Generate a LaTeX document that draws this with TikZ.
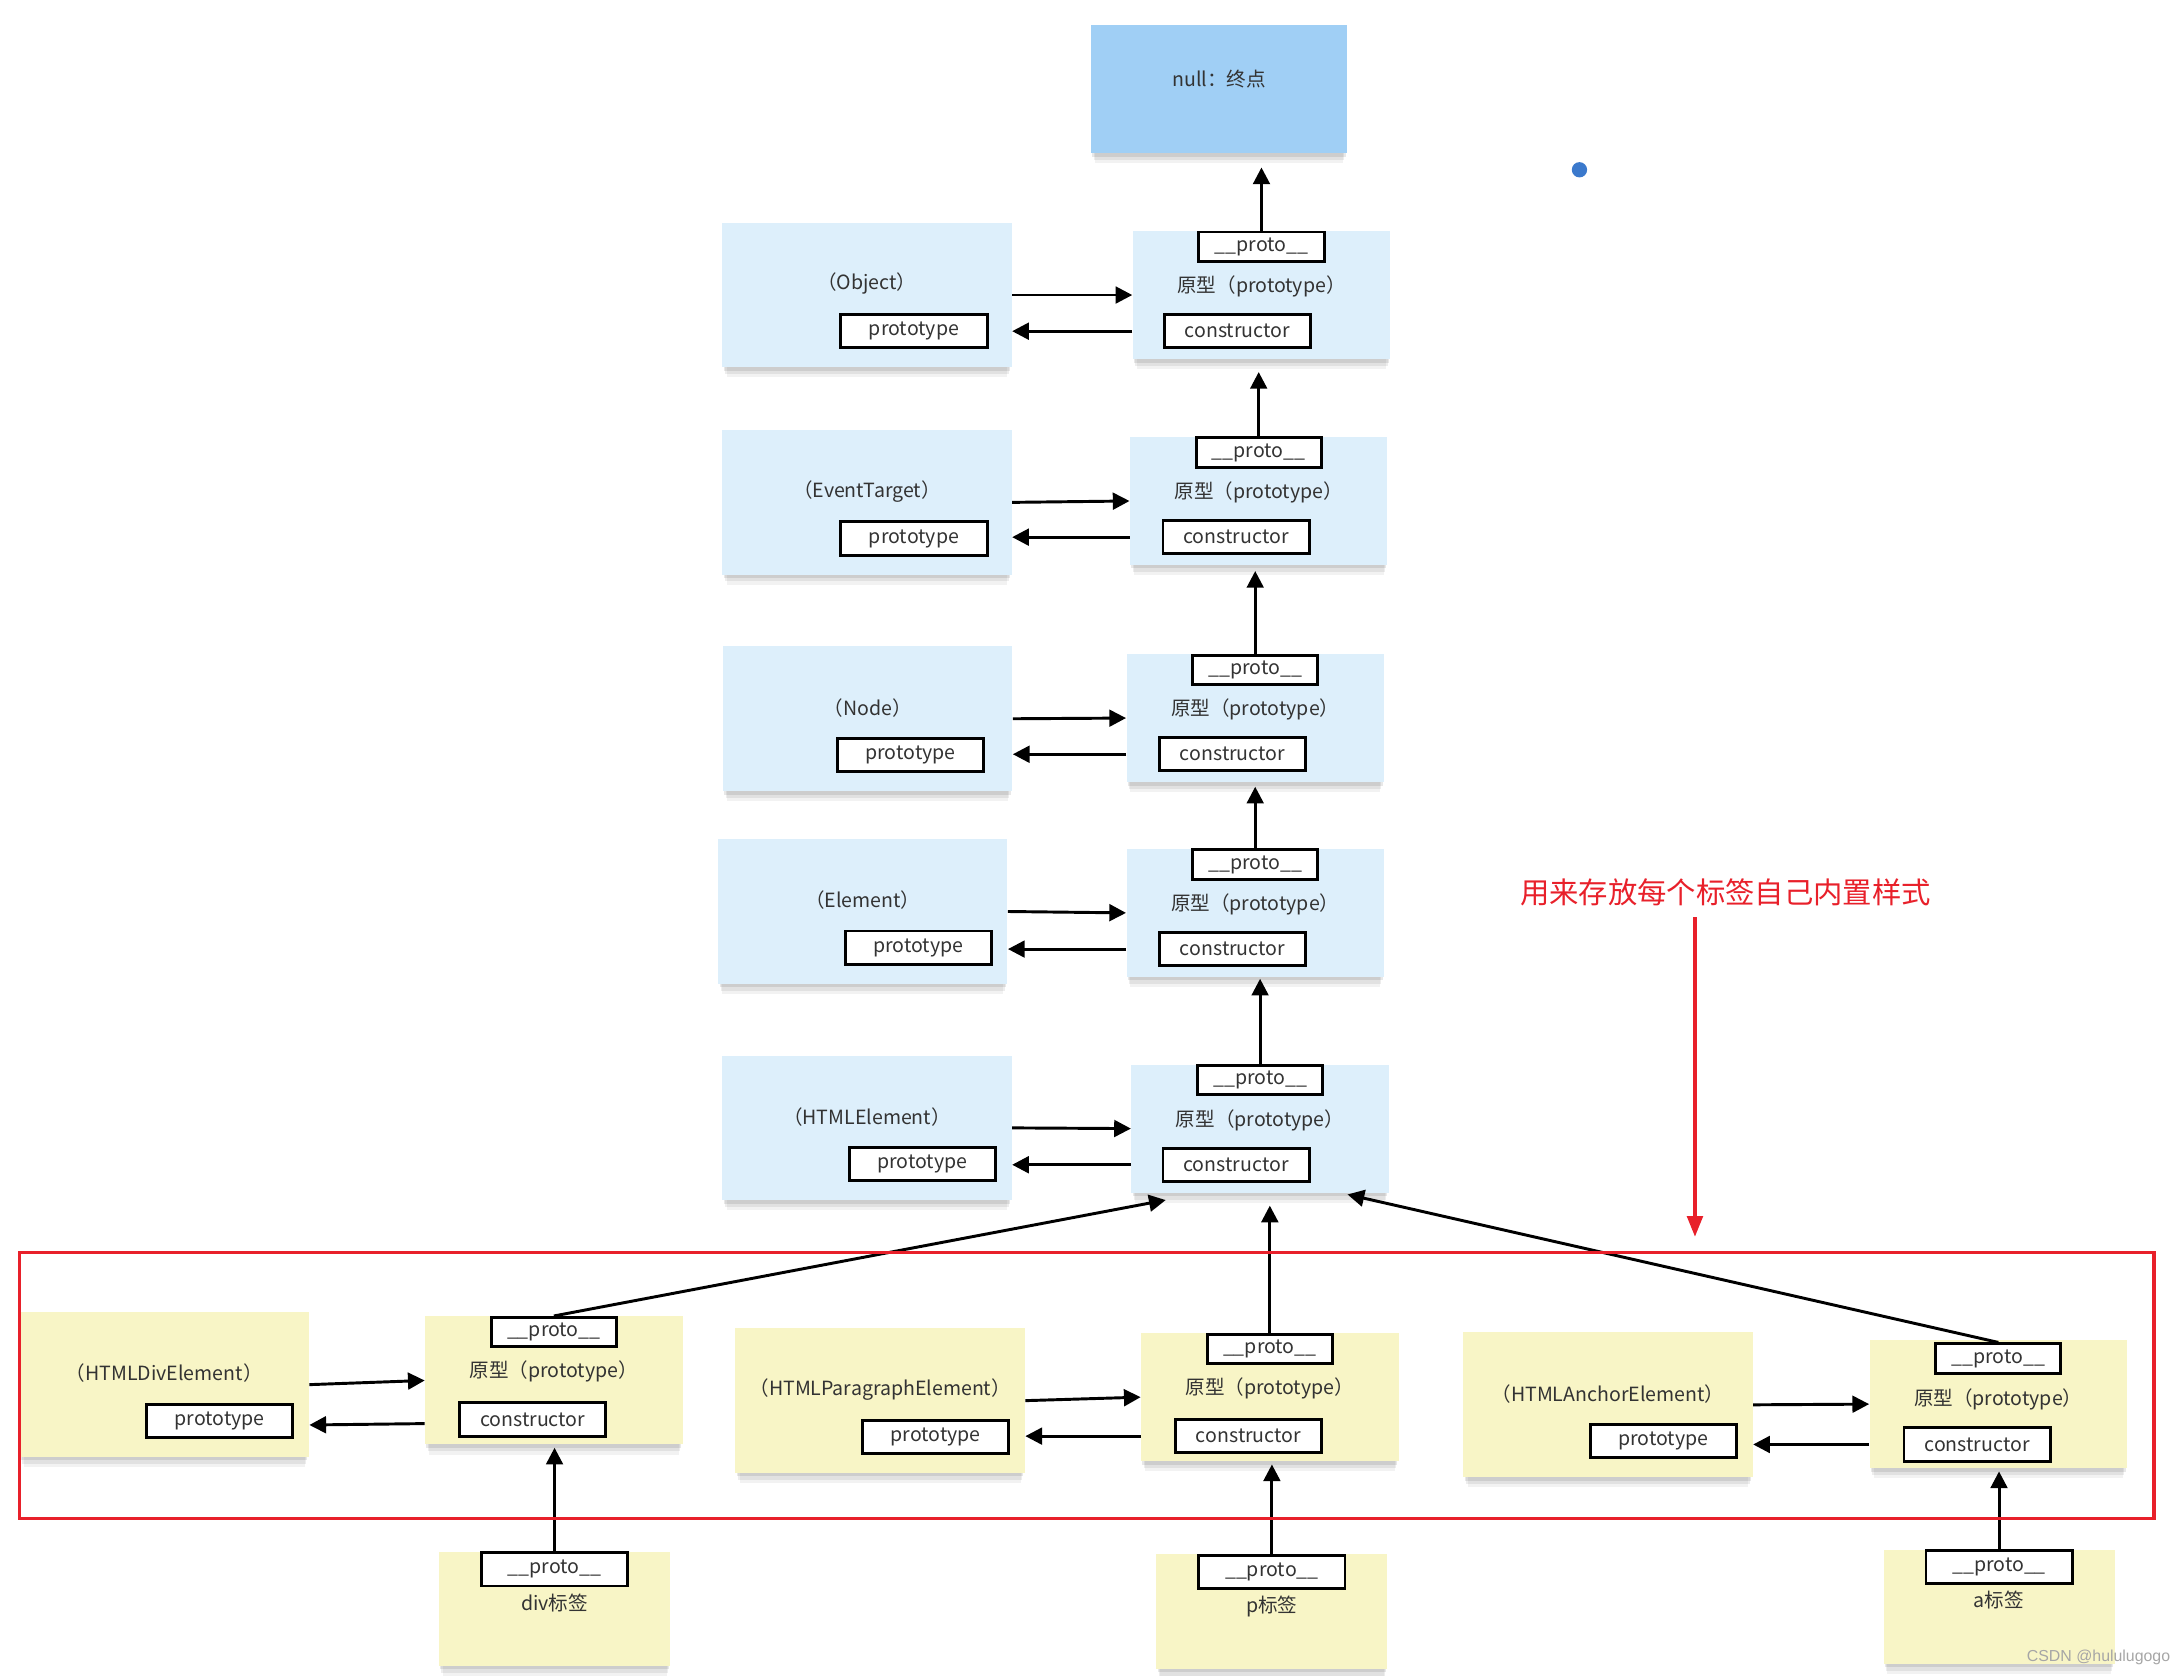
\documentclass[tikz,border=0pt]{standalone}
\usepackage{fontspec}
\setmainfont{Noto Sans CJK SC}
\newfontfamily\wmfont{Liberation Sans}
\usepackage{xcolor}
\usetikzlibrary{arrows.meta, positioning, shadows}

\definecolor{fnblue}{HTML}{DDEFFB}
\definecolor{endblue}{HTML}{A0CFF5}
\definecolor{tagyellow}{HTML}{F8F5C6}
\definecolor{notered}{HTML}{E8202A}
\definecolor{dotblue}{HTML}{3B79CC}
\definecolor{inkgray}{HTML}{333333}

\begin{document}
\begin{tikzpicture}[
      x=0.02cm, y=-0.02cm,
      every node/.style={font=\fontsize{8}{9.6}\selectfont, text=inkgray, inner sep=0pt},
      shadowed/.style={
        drop shadow={shadow xshift=0pt, shadow yshift=-0.18cm, shadow scale=0.97, opacity=0.05, fill=black},
        drop shadow={shadow xshift=0pt, shadow yshift=-0.12cm, shadow scale=0.98, opacity=0.07, fill=black},
        drop shadow={shadow xshift=0pt, shadow yshift=-0.06cm, shadow scale=0.99, opacity=0.09, fill=black}},
      fnbox/.style={rectangle, shadowed, fill=fnblue, minimum width=4.16cm, minimum height=2.08cm},
      protobox/.style={rectangle, shadowed, fill=fnblue, minimum width=3.7cm, minimum height=1.84cm},
      endbox/.style={rectangle, shadowed, fill=endblue, minimum width=3.68cm, minimum height=1.84cm},
      instbox/.style={rectangle, shadowed, fill=tagyellow, minimum width=3.32cm, minimum height=1.64cm},
      propbox/.style={rectangle, draw=black, fill=white, line width=1.2pt, minimum width=2.1cm, minimum height=0.48cm},
      protobtn/.style={propbox, minimum width=1.8cm, minimum height=0.42cm},
      arrow/.style={-{Triangle[length=0.24cm, width=0.24cm]}, line width=1.2pt},
      redframe/.style={rectangle, draw=notered, line width=1.3pt, minimum width=30.68cm, minimum height=3.82cm},
      redarrow/.style={-{Triangle[length=0.3cm, width=0.22cm]}, draw=notered, line width=1.7pt}
  ]
      \useasboundingbox (0,0) rectangle (1568,1204);

      % end of the chain
      \node[endbox] (nullbox) at (876,64) {};
      \node (nulltext) at ([yshift=0.14cm]nullbox.center) {null：终点};
      \node[circle, fill=dotblue, minimum size=0.22cm] (dot) at (1135,122) {};

      % Object
      \node[fnbox] (objfn) at (623,212) {};
      \node (objname) at ([yshift=0.16cm]objfn.center) {（Object）};
      \node[propbox, anchor=east] (objprop) at ([xshift=-0.34cm,yshift=-0.52cm]objfn.east) {prototype};
      \node[protobox] (objpro) at (906.5,212) {};
      \node[protobtn, below=0pt of objpro.north] (objproto) {\_\_proto\_\_};
      \node[below=0.18cm of objproto] (objpname) {原型（prototype）};
      \node[propbox, anchor=west] (objctor) at ([xshift=0.44cm,yshift=-0.52cm]objpro.west) {constructor};
      \draw[arrow] (objfn.east) -- (objpro.west);
      \draw[arrow] (objpro.west |- objctor) -- (objfn.east |- objctor);
      \draw[arrow, shorten >=0.2cm] (objproto.north) -- (objproto.north |- nullbox.south);

      % EventTarget
      \node[fnbox] (etfn) at (623,361) {};
      \node (etname) at ([yshift=0.16cm]etfn.center) {（EventTarget）};
      \node[propbox, anchor=east] (etprop) at ([xshift=-0.34cm,yshift=-0.52cm]etfn.east) {prototype};
      \node[protobox] (etpro) at (904.5,360) {};
      \node[protobtn, below=0pt of etpro.north] (etproto) {\_\_proto\_\_};
      \node[below=0.18cm of etproto] (etpname) {原型（prototype）};
      \node[propbox, anchor=west] (etctor) at ([xshift=0.46cm,yshift=-0.52cm]etpro.west) {constructor};
      \draw[arrow] (etfn.east) -- (etpro.west);
      \draw[arrow] (etpro.west |- etctor) -- (etfn.east |- etctor);
      \draw[arrow, shorten >=0.18cm] (etproto.north) -- (etproto.north |- objpro.south);

      % Node
      \node[fnbox] (nodefn) at (623.5,516.5) {};
      \node (nodename) at ([yshift=0.16cm]nodefn.center) {（Node）};
      \node[propbox, anchor=east] (nodeprop) at ([xshift=-0.4cm,yshift=-0.52cm]nodefn.east) {prototype};
      \node[protobox] (nodepro) at (902,516) {};
      \node[protobtn, below=0pt of nodepro.north] (nodeproto) {\_\_proto\_\_};
      \node[below=0.18cm of nodeproto] (nodepname) {原型（prototype）};
      \node[propbox, anchor=west] (nodector) at ([xshift=0.46cm,yshift=-0.52cm]nodepro.west) {constructor};
      \draw[arrow] (nodefn.east) -- (nodepro.west);
      \draw[arrow] (nodepro.west |- nodector) -- (nodefn.east |- nodector);
      \draw[arrow, shorten >=0.08cm] (nodeproto.north) -- (nodeproto.north |- etpro.south);

      % Element
      \node[fnbox] (elfn) at (620,655) {};
      \node (elname) at ([yshift=0.16cm]elfn.center) {（Element）};
      \node[propbox, anchor=east] (elprop) at ([xshift=-0.22cm,yshift=-0.52cm]elfn.east) {prototype};
      \node[protobox] (elpro) at (902,656) {};
      \node[protobtn, below=0pt of elpro.north] (elproto) {\_\_proto\_\_};
      \node[below=0.18cm of elproto] (elpname) {原型（prototype）};
      \node[propbox, anchor=west] (elctor) at ([xshift=0.46cm,yshift=-0.52cm]elpro.west) {constructor};
      \draw[arrow] (elfn.east) -- (elpro.west);
      \draw[arrow] (elpro.west |- elctor) -- (elfn.east |- elctor);
      \draw[arrow, shorten >=0.06cm] (elproto.north) -- (elproto.north |- nodepro.south);

      % HTMLElement
      \node[fnbox] (htmlfn) at (623,810.5) {};
      \node (htmlname) at ([yshift=0.16cm]htmlfn.center) {（HTMLElement）};
      \node[propbox, anchor=east] (htmlprop) at ([xshift=-0.22cm,yshift=-0.52cm]htmlfn.east) {prototype};
      \node[protobox] (htmlpro) at (905.5,811) {};
      \node[protobtn, below=0pt of htmlpro.north] (htmlproto) {\_\_proto\_\_};
      \node[below=0.18cm of htmlproto] (htmlpname) {原型（prototype）};
      \node[propbox, anchor=west] (htmlctor) at ([xshift=0.44cm,yshift=-0.52cm]htmlpro.west) {constructor};
      \draw[arrow] (htmlfn.east) -- (htmlpro.west);
      \draw[arrow] (htmlpro.west |- htmlctor) -- (htmlfn.east |- htmlctor);
      \draw[arrow, shorten >=0.02cm] (htmlproto.north) -- (htmlproto.north |- elpro.south);

      % HTMLDivElement
      \node[fnbox, fill=tagyellow] (divfn) at (118,995) {};
      \node (divname) at ([yshift=0.16cm]divfn.center) {（HTMLDivElement）};
      \node[propbox, anchor=east] (divprop) at ([xshift=-0.22cm,yshift=-0.52cm]divfn.east) {prototype};
      \node[protobox, fill=tagyellow] (divpro) at (398,992) {};
      \node[protobtn, below=0pt of divpro.north] (divproto) {\_\_proto\_\_};
      \node[below=0.18cm of divproto] (divpname) {原型（prototype）};
      \node[propbox, anchor=west] (divctor) at ([xshift=0.48cm,yshift=-0.56cm]divpro.west) {constructor};
      \draw[arrow] (divfn.east) -- (divpro.west);
      \draw[arrow] ([yshift=-0.06cm]divpro.west |- divctor) -- ([yshift=-0.08cm]divfn.east |- divctor);

      % HTMLParagraphElement
      \node[fnbox, fill=tagyellow] (parafn) at (632.5,1006.5) {};
      \node (paraname) at ([yshift=0.16cm]parafn.center) {（HTMLParagraphElement）};
      \node[propbox, anchor=east] (paraprop) at ([xshift=-0.22cm,yshift=-0.52cm]parafn.east) {prototype};
      \node[protobox, fill=tagyellow] (parapro) at (912.5,1004) {};
      \node[protobtn, below=0pt of parapro.north] (paraproto) {\_\_proto\_\_};
      \node[below=0.18cm of paraproto] (parapname) {原型（prototype）};
      \node[propbox, anchor=west] (paractor) at ([xshift=0.48cm,yshift=-0.56cm]parapro.west) {constructor};
      \draw[arrow] (parafn.east) -- (parapro.west);
      \draw[arrow] (parapro.west |- paractor) -- (parafn.east |- paractor);

      % HTMLAnchorElement
      \node[fnbox, fill=tagyellow] (ancfn) at (1155.5,1009.5) {};
      \node (ancname) at ([yshift=0.16cm]ancfn.center) {（HTMLAnchorElement）};
      \node[propbox, anchor=east] (ancprop) at ([xshift=-0.22cm,yshift=-0.52cm]ancfn.east) {prototype};
      \node[protobox, fill=tagyellow] (ancpro) at (1436,1009) {};
      \node[protobtn, below=0.04cm of ancpro.north] (ancproto) {\_\_proto\_\_};
      \node[below=0.2cm of ancproto] (ancpname) {原型（prototype）};
      \node[propbox, anchor=west] (ancctor) at ([xshift=0.48cm,yshift=-0.58cm]ancpro.west) {constructor};
      \draw[arrow] (ancfn.east) -- (ancpro.west);
      \draw[arrow] (ancpro.west |- ancctor) -- (ancfn.east |- ancctor);

      % links up to HTMLElement
      \draw[arrow] (divproto.north) -- ([xshift=0.5cm,yshift=-0.1cm]htmlpro.south west);
      \draw[arrow, shorten >=0.18cm] (paraproto.north) -- (paraproto.north |- htmlpro.south);
      \draw[arrow] (ancproto.north) -- ([xshift=-0.6cm,yshift=-0.02cm]htmlpro.south east);

      % the tags
      \node[instbox] (divinst) at (398.5,1156) {};
      \node[propbox, below=0pt of divinst.north] (divtag) {\_\_proto\_\_};
      \node[below=0.08cm of divtag] (divlabel) {div标签};
      \draw[arrow, shorten >=0.04cm] (divtag.north) -- (divtag.north |- divpro.south);

      \node[instbox] (pinst) at (914,1158) {};
      \node[propbox, below=0pt of pinst.north] (ptag) {\_\_proto\_\_};
      \node[below=0.08cm of ptag] (plabel) {p标签};
      \draw[arrow, shorten >=0.04cm] (ptag.north) -- (ptag.north |- parapro.south);

      \node[instbox] (ainst) at (1436.5,1154.5) {};
      \node[propbox, below=0pt of ainst.north] (atag) {\_\_proto\_\_};
      \node[below=0.08cm of atag] (alabel) {a标签};
      \draw[arrow, shorten >=0.04cm] (atag.north) -- (atag.north |- ancpro.south);

      % red note
      \node[redframe] (frame) at (781,995.5) {};
      \node[font=\fontsize{12}{14}\selectfont, text=notered] (note) at (1240,641) {用来存放每个标签自己内置样式};
      \coordinate (notefoot) at ([xshift=-0.44cm,yshift=-0.16cm]note.south);
      \draw[redarrow, shorten >=0.2cm] (notefoot) -- (notefoot |- frame.north);

      \node[font=\wmfont\fontsize{6.5}{7}\selectfont, text=black!35] (mark) at (1508,1191) {CSDN @hululugogo};
  \end{tikzpicture}
\end{document}
